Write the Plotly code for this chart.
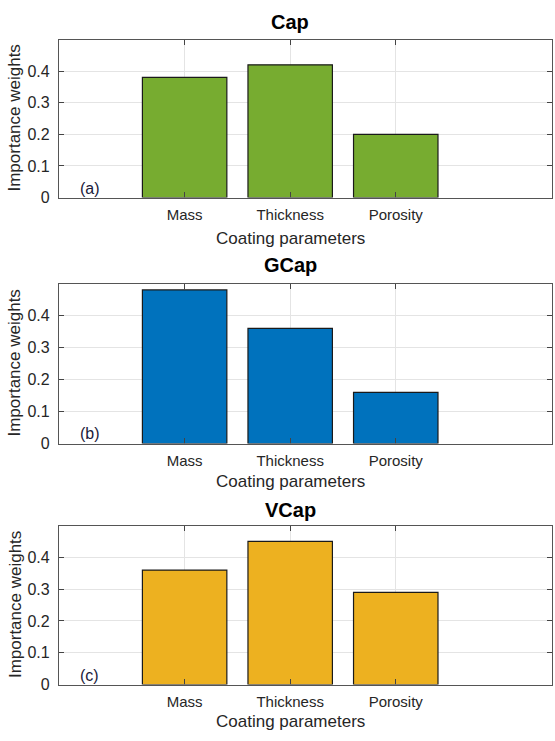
import plotly.graph_objects as go

categories = ["Mass", "Thickness", "Porosity"]
cap_values = [0.38, 0.42, 0.20]
gcap_values = [0.48, 0.36, 0.16]
vcap_values = [0.36, 0.45, 0.29]
panel_titles = ["Cap", "GCap", "VCap"]
panel_tags = ["(a)", "(b)", "(c)"]
y_ticks = [0, 0.1, 0.2, 0.3, 0.4]
y_tick_labels = ["0", "0.1", "0.2", "0.3", "0.4"]

series = [cap_values, gcap_values, vcap_values]
colors = ["#77AC30", "#0072BD", "#EDB120"]

W, H = 555, 741
# panel pixel extents (top, bottom)
panels_px = [(40, 200), (287, 449), (532, 693)]
title_px = [22, 268, 516]
xlabel_px = [241, 487, 730]

FONT = "Liberation Sans, Arial, sans-serif"
x_pos = [1, 2, 3]

fig = go.Figure()
layout = dict(
    width=W, height=H,
    margin=dict(l=59, r=3, t=0, b=0),
    paper_bgcolor="white", plot_bgcolor="white",
    showlegend=False,
    font=dict(family=FONT, color="#262626"),
    bargap=0.2,
)
annotations = []

for i in range(3):
    ax = "" if i == 0 else str(i + 1)
    top, bot = panels_px[i]
    fig.add_trace(go.Bar(
        x=x_pos, y=series[i],
        xaxis="x" + ax, yaxis="y" + ax,
        width=0.8,
        marker=dict(color=colors[i], line=dict(color="#1a1a1a", width=1.2)),
        hoverinfo="skip",
    ))
    layout["xaxis" + ax] = dict(
        domain=[0, 1], anchor="y" + ax,
        range=[-0.19, 4.48],
        tickmode="array", tickvals=x_pos, ticktext=categories,
        ticks="inside", ticklen=5, tickcolor="#444", mirror="ticks",
        showline=True, linecolor="#555", linewidth=1.2,
        showgrid=True, gridcolor="#e4e4e4", gridwidth=1,
        zeroline=False,
        tickfont=dict(size=15, color="#262626", family=FONT),
        ticklabelstandoff=3,
        fixedrange=True,
    )
    layout["yaxis" + ax] = dict(
        domain=[1 - bot / H, 1 - top / H], anchor="x" + ax,
        range=[0, 0.5],
        tickmode="array", tickvals=y_ticks, ticktext=y_tick_labels,
        ticks="inside", ticklen=5, tickcolor="#444", mirror="ticks",
        showline=True, linecolor="#555", linewidth=1.2,
        showgrid=True, gridcolor="#e4e4e4", gridwidth=1,
        zeroline=False,
        tickfont=dict(size=16, color="#262626", family=FONT),
        ticklabelstandoff=5,
        fixedrange=True,
    )
    annotations.append(dict(
        text="<b>" + panel_titles[i] + "</b>",
        xref="x" + ax, yref="paper", x=2, y=1 - title_px[i] / H,
        xanchor="center", yanchor="middle", showarrow=False,
        font=dict(size=20, color="#000", family=FONT),
    ))
    annotations.append(dict(
        text="Coating parameters",
        xref="x" + ax, yref="paper", x=2, y=1 - xlabel_px[i] / H,
        xanchor="center", yanchor="middle", showarrow=False,
        font=dict(size=17, color="#262626", family=FONT),
    ))
    annotations.append(dict(
        text="Importance weights", textangle=-90,
        xref="paper", yref="paper", x=-(59 - 15) / (W - 62),
        y=1 - (top + bot) / 2 / H,
        xanchor="center", yanchor="middle", showarrow=False,
        font=dict(size=17, color="#262626", family=FONT),
    ))
    annotations.append(dict(
        text=panel_tags[i],
        xref="x" + ax, yref="y" + ax, x=0.1, y=0.03,
        xanchor="center", yanchor="middle", showarrow=False,
        font=dict(size=16, color="#1a1a3a", family=FONT),
    ))

layout["annotations"] = annotations
fig.update_layout(**layout)
fig.write_html("out.html")
